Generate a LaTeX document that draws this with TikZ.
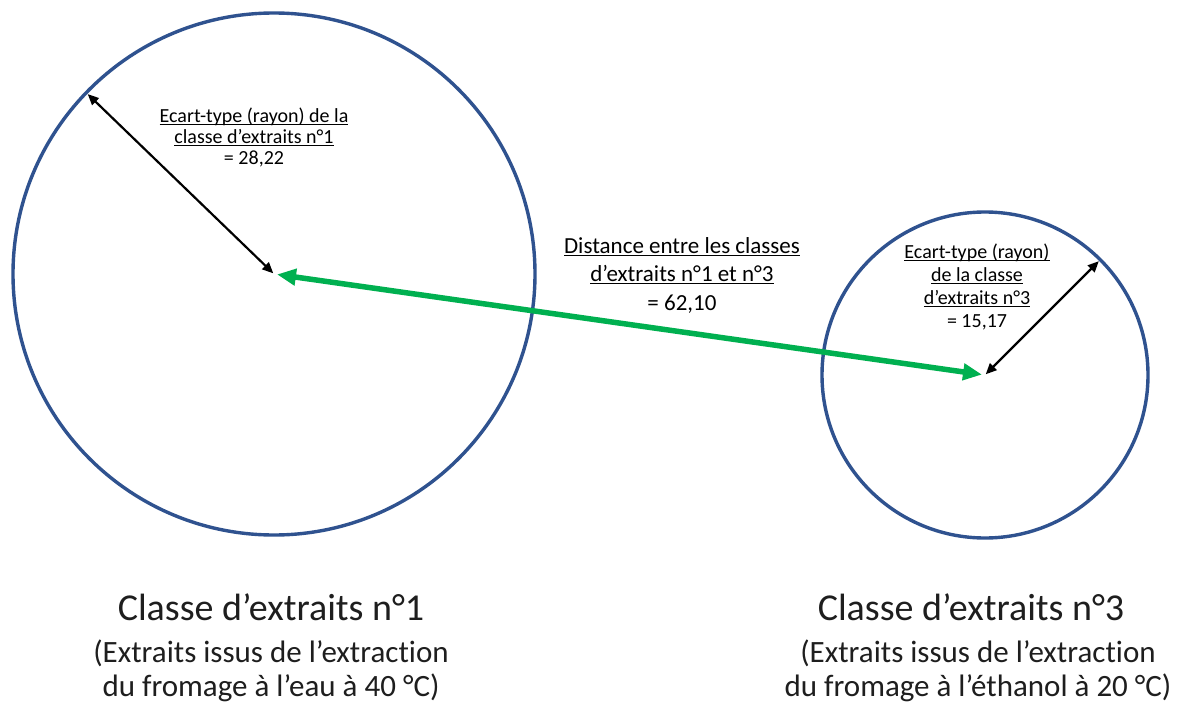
\documentclass[tikz,border=0pt]{standalone}
\usepackage{fontspec}
\setmainfont{Carlito}[Ligatures={NoCommon}]
\usetikzlibrary{arrows.meta}
\definecolor{cblue}{RGB}{47,82,143}
\definecolor{cgreen}{RGB}{0,176,80}
\definecolor{ctext}{RGB}{30,30,30}
\newcommand\ulx[1]{\setbox0\hbox{#1}\rlap{\rule[-2.5pt]{\wd0}{0.9pt}}\box0}
\begin{document}
\begin{tikzpicture}[x=1pt,y=-1pt,
  ring/.style={circle,draw=cblue,line width=3.4pt,inner sep=0pt,outer sep=0pt},
  radius arrow/.style={line width=2.2pt,{Triangle[length=11pt,width=9.5pt]}-{Triangle[length=11pt,width=9.5pt]}},
  dist arrow/.style={draw=cgreen,line width=5.5pt,{Triangle[length=19pt,width=16pt]}-{Triangle[length=19pt,width=16pt]}},
  lbl/.style={align=center,inner sep=0pt,anchor=north,text=black},
  big/.style={align=center,inner sep=0pt,anchor=north,text=ctext}]
\useasboundingbox (0,0) rectangle (1183,706);
\fill[white] (0,0) rectangle (1183,706);
\node[ring,minimum size=522pt] (c1) at (274,274) {};
\node[ring,minimum size=326pt] (c3) at (985,375) {};
\draw[radius arrow,shorten >=2pt,shorten <=1pt] (c1.center) -- (c1.136);
\draw[radius arrow,shorten >=2pt,shorten <=1pt] (c3.center) -- (c3.45);
\draw[dist arrow,shorten <=3pt,shorten >=3pt] (c1.center) -- (c3.center);
\node[lbl,font=\fontsize{20}{21}\selectfont] (l1) at (254,108)
  {\ulx{Ecart-type (rayon) de la}\\ \ulx{classe d’extraits n°1}\\ = 28,22};
\node[lbl,font=\fontsize{23}{28.5}\selectfont] (l2) at (682,237)
  {\ulx{Distance entre les classes}\\ \ulx{d’extraits n°1 et n°3}\\ = 62,10};
\node[lbl,font=\fontsize{20}{23}\selectfont] (l3) at (977,244)
  {\ulx{Ecart-type (rayon)}\\ \ulx{de la classe}\\ \ulx{d’extraits n°3}\\ = 15,17};
\node[big,font=\fontsize{38}{40}\selectfont] (t1) at (271,594) {Classe d’extraits n°1};
\node[big,font=\fontsize{31}{33.5}\selectfont] (s1) at (271,640)
  {(Extraits issus de l’extraction\\ du fromage à l’eau à 40 °C)};
\node[big,font=\fontsize{38}{40}\selectfont] (t3) at (971,594) {Classe d’extraits n°3};
\node[big,font=\fontsize{31}{33.5}\selectfont] (s3) at (978,640)
  {(Extraits issus de l’extraction\\ du fromage à l’éthanol à 20 °C)};
\end{tikzpicture}
\end{document}
